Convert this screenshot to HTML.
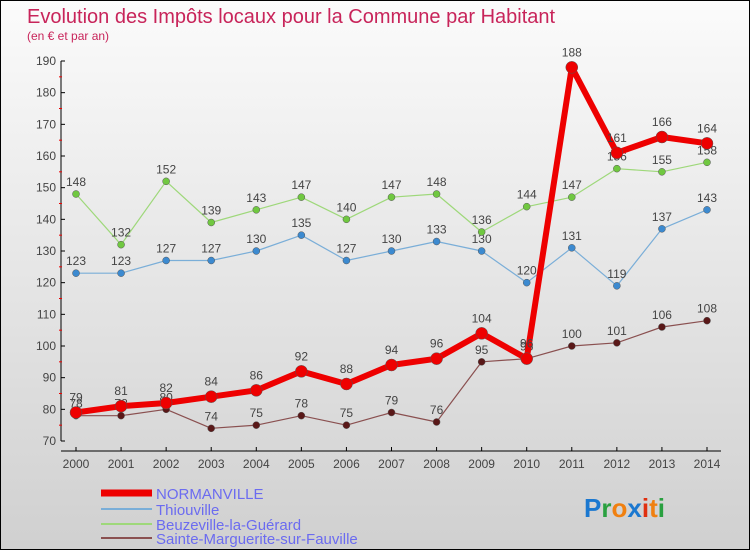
<!DOCTYPE html>
<html><head><meta charset="utf-8"><style>
body{margin:0;}
#wrap{position:relative;width:748px;height:548px;border:1px solid #000;background:linear-gradient(#fbfbfb,#d0d0d0);overflow:hidden;font-family:"Liberation Sans",sans-serif;}
svg text{font-family:"Liberation Sans",sans-serif;}
</style></head><body>
<div id="wrap">
<svg id="chart" width="748" height="548">
<text x="26" y="22" font-size="20" fill="#c8245a">Evolution des Impôts locaux pour la Commune par Habitant</text>
<text x="26" y="39" font-size="12" fill="#c8245a">(en € et par an)</text>
<g id="axes"></g><g id="series"></g>
<g>
<line x1="100" y1="492" x2="151" y2="492" stroke="#e00" stroke-width="7"/>
<text x="155" y="498" font-size="15" fill="#6b6bf0">NORMANVILLE</text>
<line x1="100" y1="508" x2="151" y2="508" stroke="#7aaed8" stroke-width="2"/>
<text x="155" y="514" font-size="15" fill="#6b6bf0">Thiouville</text>
<line x1="100" y1="523" x2="151" y2="523" stroke="#9ed87a" stroke-width="2"/>
<text x="155" y="529" font-size="15" fill="#6b6bf0">Beuzeville-la-Guérard</text>
<line x1="100" y1="537" x2="151" y2="537" stroke="#8a5050" stroke-width="2"/>
<text x="155" y="543" font-size="15" fill="#6b6bf0">Sainte-Marguerite-sur-Fauville</text>
</g>
<g font-size="26" font-weight="bold">
<text x="583" y="516"><tspan fill="#1b78d0">P</tspan><tspan fill="#2aa040">r</tspan><tspan fill="#f08010">o</tspan><tspan fill="#1b78d0">x</tspan><tspan fill="#e03010">i</tspan><tspan fill="#f08010">t</tspan><tspan fill="#2aa040">i</tspan></text>
</g>
</svg>
</div>
<script>
const years=[2000,2001,2002,2003,2004,2005,2006,2007,2008,2009,2010,2011,2012,2013,2014];
const normanville=[79,81,82,84,86,92,88,94,96,104,96,188,161,166,164];
const thiouville=[123,123,127,127,130,135,127,130,133,130,120,131,119,137,143];
const beuzeville=[148,132,152,139,143,147,140,147,148,136,144,147,156,155,158];
const sainteMarguerite=[78,78,80,74,75,78,75,79,76,95,96,100,101,106,108];
const yTicks=[70,80,90,100,110,120,130,140,150,160,170,180,190];
const NS="http://www.w3.org/2000/svg";
const x=i=>75+i*(706-75)/(years.length-1);
const y=v=>440-(v-70)*(380/120);
function mk(t,a,p){const e=document.createElementNS(NS,t);for(const k in a)e.setAttribute(k,a[k]);p.appendChild(e);return e;}
const ax=document.getElementById('axes');
const yl=mk('line',{x1:60,y1:y(190),x2:60,y2:440,stroke:'#000'},ax);


const xl=mk('line',{x1:60,y1:450,x2:720,y2:450,stroke:'#000'},ax);


yTicks.forEach(v=>{
 mk('line',{x1:60,y1:y(v),x2:64,y2:y(v),stroke:'#000'},ax);
 if(v<190) mk('line',{x1:58,y1:y(v+5),x2:61,y2:y(v+5),stroke:'#e00'},ax);
 const t=mk('text',{x:55,y:y(v)+4,'font-size':12,'text-anchor':'end',fill:'#444'},ax);t.textContent=v;
 
 
});
years.forEach((yr,i)=>{
 mk('line',{x1:x(i),y1:450,x2:x(i),y2:446,stroke:'#000'},ax);
 const t=mk('text',{x:x(i),y:467,'font-size':12,'text-anchor':'middle',fill:'#444'},ax);t.textContent=yr;
 
 
});
const sg=document.getElementById('series');
function series(data,name,color,dot,w,r,lblDy){
 const g=mk('g',{},sg);
 
 
 const pl=mk('polyline',{points:data.map((v,i)=>x(i)+','+y(v)).join(' '),fill:'none',stroke:color,'stroke-width':w,'stroke-linejoin':'round'},g);
 
 
 data.forEach((v,i)=>{
  const c=mk('circle',{cx:x(i),cy:y(v),r:r,fill:dot,stroke:'#555','stroke-width':0.5},g);
  
  
  const t=mk('text',{x:x(i),y:y(v)+lblDy,'font-size':12,'text-anchor':'middle',fill:'#444'},g);t.textContent=v;
  
  
 });
}
series(sainteMarguerite,'sainte-marguerite','#8a5050','#5a1818',1.2,3.5,-8);
series(thiouville,'thiouville','#7aaed8','#3c8ad0',1.2,3.5,-8);
series(beuzeville,'beuzeville','#9ed87a','#70c840',1.2,3.5,-8);
series(normanville,'normanville','#e00','#e00',6,6,-11);
</script>
</body></html>
